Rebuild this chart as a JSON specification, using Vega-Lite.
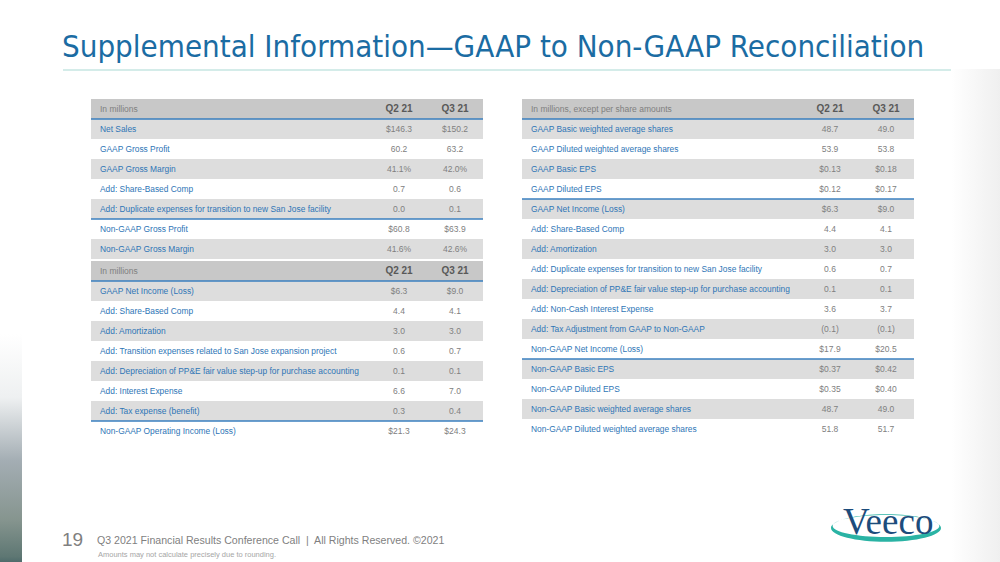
{
  "$schema": "https://vega.github.io/schema/vega-lite/v6.json",
  "background": "white",
  "padding": {"left": 0, "top": 32, "right": 0, "bottom": 0},
  "config": {"view": {"stroke": null}, "font": "Liberation Sans"},
  "spacing": 0,
  "datasets": {
    "t1": [
      {"row": 1, "block": "a", "label": "Net Sales", "Q2 21": "$146.3", "Q3 21": "$150.2"},
      {"row": 2, "block": "a", "label": "GAAP Gross Profit", "Q2 21": "60.2", "Q3 21": "63.2"},
      {"row": 3, "block": "a", "label": "GAAP Gross Margin", "Q2 21": "41.1%", "Q3 21": "42.0%"},
      {"row": 4, "block": "a", "label": "Add: Share-Based Comp", "Q2 21": "0.7", "Q3 21": "0.6"},
      {"row": 5, "block": "a", "label": "Add: Duplicate expenses for transition to new San Jose facility", "Q2 21": "0.0", "Q3 21": "0.1"},
      {"row": 6, "block": "b", "label": "Non-GAAP Gross Profit", "Q2 21": "$60.8", "Q3 21": "$63.9"},
      {"row": 7, "block": "b", "label": "Non-GAAP Gross Margin", "Q2 21": "41.6%", "Q3 21": "42.6%"}
    ],
    "t2": [
      {"row": 1, "block": "a", "label": "GAAP Net Income (Loss)", "Q2 21": "$6.3", "Q3 21": "$9.0"},
      {"row": 2, "block": "a", "label": "Add: Share-Based Comp", "Q2 21": "4.4", "Q3 21": "4.1"},
      {"row": 3, "block": "a", "label": "Add: Amortization", "Q2 21": "3.0", "Q3 21": "3.0"},
      {"row": 4, "block": "a", "label": "Add: Transition expenses related to San Jose expansion project", "Q2 21": "0.6", "Q3 21": "0.7"},
      {"row": 5, "block": "a", "label": "Add: Depreciation of PP&E fair value step-up for purchase accounting", "Q2 21": "0.1", "Q3 21": "0.1"},
      {"row": 6, "block": "a", "label": "Add: Interest Expense", "Q2 21": "6.6", "Q3 21": "7.0"},
      {"row": 7, "block": "a", "label": "Add: Tax expense (benefit)", "Q2 21": "0.3", "Q3 21": "0.4"},
      {"row": 8, "block": "b", "label": "Non-GAAP Operating Income (Loss)", "Q2 21": "$21.3", "Q3 21": "$24.3"}
    ],
    "t3": [
      {"row": 1, "block": "a", "label": "GAAP Basic weighted average shares", "Q2 21": "48.7", "Q3 21": "49.0"},
      {"row": 2, "block": "a", "label": "GAAP Diluted weighted average shares", "Q2 21": "53.9", "Q3 21": "53.8"},
      {"row": 3, "block": "a", "label": "GAAP Basic EPS", "Q2 21": "$0.13", "Q3 21": "$0.18"},
      {"row": 4, "block": "a", "label": "GAAP Diluted EPS", "Q2 21": "$0.12", "Q3 21": "$0.17"},
      {"row": 5, "block": "b", "label": "GAAP Net Income (Loss)", "Q2 21": "$6.3", "Q3 21": "$9.0"},
      {"row": 6, "block": "b", "label": "Add: Share-Based Comp", "Q2 21": "4.4", "Q3 21": "4.1"},
      {"row": 7, "block": "b", "label": "Add: Amortization", "Q2 21": "3.0", "Q3 21": "3.0"},
      {"row": 8, "block": "b", "label": "Add: Duplicate expenses for transition to new San Jose facility", "Q2 21": "0.6", "Q3 21": "0.7"},
      {"row": 9, "block": "b", "label": "Add: Depreciation of PP&E fair value step-up for purchase accounting", "Q2 21": "0.1", "Q3 21": "0.1"},
      {"row": 10, "block": "b", "label": "Add: Non-Cash Interest Expense", "Q2 21": "3.6", "Q3 21": "3.7"},
      {"row": 11, "block": "b", "label": "Add: Tax Adjustment from GAAP to Non-GAAP", "Q2 21": "(0.1)", "Q3 21": "(0.1)"},
      {"row": 12, "block": "b", "label": "Non-GAAP Net Income (Loss)", "Q2 21": "$17.9", "Q3 21": "$20.5"},
      {"row": 13, "block": "c", "label": "Non-GAAP Basic EPS", "Q2 21": "$0.37", "Q3 21": "$0.42"},
      {"row": 14, "block": "c", "label": "Non-GAAP Diluted EPS", "Q2 21": "$0.35", "Q3 21": "$0.40"},
      {"row": 15, "block": "c", "label": "Non-GAAP Basic weighted average shares", "Q2 21": "48.7", "Q3 21": "49.0"},
      {"row": 16, "block": "c", "label": "Non-GAAP Diluted weighted average shares", "Q2 21": "51.8", "Q3 21": "51.7"}
    ]
  },
  "hconcat": [
    {
      "width": 62, "height": 530,
      "data": {"values": [{}]},
      "mark": {"type": "rect", "color": {"gradient": "linear", "x1": 0, "y1": 0, "x2": 0, "y2": 1, "stops": [{"offset": 0, "color": "#ffffff"}, {"offset": 0.5, "color": "#ffffff"}, {"offset": 0.62, "color": "#eef0f1"}, {"offset": 0.74, "color": "#a3adb3"}, {"offset": 0.85, "color": "#86958f"}, {"offset": 0.92, "color": "#5e7773"}, {"offset": 0.955, "color": "#2b4f58"}, {"offset": 1, "color": "#1fa58f"}]}},
      "encoding": {"x": {"value": 0}, "x2": {"value": 22}, "y": {"value": 0}, "y2": {"value": "height"}}
    },
    {
      "title": {"text": "Supplemental Information\u2014GAAP to Non-GAAP Reconciliation", "anchor": "start", "font": "DejaVu Sans Condensed, Roboto, sans-serif", "fontSize": 31, "fontWeight": "normal", "color": "#1b6ca3", "offset": 5},
      "spacing": 28,
      "vconcat": [
        {
          "width": 888, "height": 2,
          "data": {"values": [{}]},
          "mark": {"type": "rect", "color": "#d4ece9"},
          "encoding": {"x": {"value": 0}, "x2": {"value": "width"}, "y": {"value": 0}, "y2": {"value": "height"}}
        },
        {
          "spacing": 0,
          "hconcat": [
            {"width": 27, "height": 1, "data": {"values": []}, "mark": "point"},
            {
              "spacing": 2,
              "vconcat": [
                {
                  "width": 392, "height": 160,
                  "data": {"name": "t1"},
                  "encoding": {"y": {"field": "row", "type": "ordinal", "scale": {"domain": [0, 1, 2, 3, 4, 5, 6, 7], "paddingInner": 0, "paddingOuter": 0}, "axis": null}},
                  "layer": [
                    {"transform": [{"aggregate": [{"op": "count", "as": "n"}]}], "mark": {"type": "rect", "color": "#c8c8c8"}, "encoding": {"y": {"datum": 0, "type": "ordinal"}, "x": {"value": 0}, "x2": {"value": "width"}}},
                    {"transform": [{"filter": "datum.row % 2 == 1"}], "mark": {"type": "rect", "color": "#dddddd"}, "encoding": {"x": {"value": 0}, "x2": {"value": "width"}}},
                    {"transform": [{"aggregate": [{"op": "min", "field": "row", "as": "first"}], "groupby": ["block"]}], "mark": {"type": "rule", "color": "#3a7fbf", "strokeWidth": 1.5}, "encoding": {"y": {"field": "first", "type": "ordinal", "bandPosition": 0}, "x": {"value": 0}, "x2": {"value": "width"}}},
                    {"mark": {"type": "text", "align": "left", "baseline": "middle", "fontSize": 8.4, "color": "#2e75b6"}, "encoding": {"x": {"value": 9}, "text": {"field": "label"}}},
                    {"transform": [{"fold": ["Q2 21", "Q3 21"], "as": ["period", "value"]}], "mark": {"type": "text", "align": "center", "baseline": "middle", "fontSize": 8.5, "color": "#808080"}, "encoding": {"x": {"field": "period", "type": "nominal", "scale": {"type": "band", "domain": ["Q2 21", "Q3 21"], "range": [280, 392], "paddingInner": 0, "paddingOuter": 0}, "axis": null}, "text": {"field": "value"}}},
                    {"transform": [{"fold": ["Q2 21", "Q3 21"], "as": ["period", "value"]}, {"aggregate": [{"op": "count", "as": "n"}], "groupby": ["period"]}], "mark": {"type": "text", "align": "center", "baseline": "middle", "fontSize": 10, "fontWeight": "bold", "color": "#595959"}, "encoding": {"x": {"field": "period", "type": "nominal"}, "y": {"datum": 0, "type": "ordinal"}, "text": {"field": "period"}}},
                    {"transform": [{"aggregate": [{"op": "count", "as": "n"}]}], "mark": {"type": "text", "align": "left", "baseline": "middle", "fontSize": 8.5, "color": "#7f7f7f"}, "encoding": {"x": {"value": 9}, "y": {"datum": 0, "type": "ordinal"}, "text": {"value": "In millions"}}}
                  ]
                },
                {
                  "width": 392, "height": 180,
                  "data": {"name": "t2"},
                  "encoding": {"y": {"field": "row", "type": "ordinal", "scale": {"domain": [0, 1, 2, 3, 4, 5, 6, 7, 8], "paddingInner": 0, "paddingOuter": 0}, "axis": null}},
                  "layer": [
                    {"transform": [{"aggregate": [{"op": "count", "as": "n"}]}], "mark": {"type": "rect", "color": "#c8c8c8"}, "encoding": {"y": {"datum": 0, "type": "ordinal"}, "x": {"value": 0}, "x2": {"value": "width"}}},
                    {"transform": [{"filter": "datum.row % 2 == 1"}], "mark": {"type": "rect", "color": "#dddddd"}, "encoding": {"x": {"value": 0}, "x2": {"value": "width"}}},
                    {"transform": [{"aggregate": [{"op": "min", "field": "row", "as": "first"}], "groupby": ["block"]}], "mark": {"type": "rule", "color": "#3a7fbf", "strokeWidth": 1.5}, "encoding": {"y": {"field": "first", "type": "ordinal", "bandPosition": 0}, "x": {"value": 0}, "x2": {"value": "width"}}},
                    {"mark": {"type": "text", "align": "left", "baseline": "middle", "fontSize": 8.4, "color": "#2e75b6"}, "encoding": {"x": {"value": 9}, "text": {"field": "label"}}},
                    {"transform": [{"fold": ["Q2 21", "Q3 21"], "as": ["period", "value"]}], "mark": {"type": "text", "align": "center", "baseline": "middle", "fontSize": 8.5, "color": "#808080"}, "encoding": {"x": {"field": "period", "type": "nominal", "scale": {"type": "band", "domain": ["Q2 21", "Q3 21"], "range": [280, 392], "paddingInner": 0, "paddingOuter": 0}, "axis": null}, "text": {"field": "value"}}},
                    {"transform": [{"fold": ["Q2 21", "Q3 21"], "as": ["period", "value"]}, {"aggregate": [{"op": "count", "as": "n"}], "groupby": ["period"]}], "mark": {"type": "text", "align": "center", "baseline": "middle", "fontSize": 10, "fontWeight": "bold", "color": "#595959"}, "encoding": {"x": {"field": "period", "type": "nominal"}, "y": {"datum": 0, "type": "ordinal"}, "text": {"field": "period"}}},
                    {"transform": [{"aggregate": [{"op": "count", "as": "n"}]}], "mark": {"type": "text", "align": "left", "baseline": "middle", "fontSize": 8.5, "color": "#7f7f7f"}, "encoding": {"x": {"value": 9}, "y": {"datum": 0, "type": "ordinal"}, "text": {"value": "In millions"}}}
                  ]
                }
              ]
            },
            {"width": 37, "height": 1, "data": {"values": []}, "mark": "point"},
            {
              "width": 392, "height": 340,
              "data": {"name": "t3"},
              "encoding": {"y": {"field": "row", "type": "ordinal", "scale": {"domain": [0, 1, 2, 3, 4, 5, 6, 7, 8, 9, 10, 11, 12, 13, 14, 15, 16], "paddingInner": 0, "paddingOuter": 0}, "axis": null}},
              "layer": [
                {"transform": [{"aggregate": [{"op": "count", "as": "n"}]}], "mark": {"type": "rect", "color": "#c8c8c8"}, "encoding": {"y": {"datum": 0, "type": "ordinal"}, "x": {"value": 0}, "x2": {"value": "width"}}},
                {"transform": [{"filter": "datum.row % 2 == 1"}], "mark": {"type": "rect", "color": "#dddddd"}, "encoding": {"x": {"value": 0}, "x2": {"value": "width"}}},
                {"transform": [{"aggregate": [{"op": "min", "field": "row", "as": "first"}], "groupby": ["block"]}], "mark": {"type": "rule", "color": "#3a7fbf", "strokeWidth": 1.5}, "encoding": {"y": {"field": "first", "type": "ordinal", "bandPosition": 0}, "x": {"value": 0}, "x2": {"value": "width"}}},
                {"mark": {"type": "text", "align": "left", "baseline": "middle", "fontSize": 8.4, "color": "#2e75b6"}, "encoding": {"x": {"value": 9}, "text": {"field": "label"}}},
                {"transform": [{"fold": ["Q2 21", "Q3 21"], "as": ["period", "value"]}], "mark": {"type": "text", "align": "center", "baseline": "middle", "fontSize": 8.5, "color": "#808080"}, "encoding": {"x": {"field": "period", "type": "nominal", "scale": {"type": "band", "domain": ["Q2 21", "Q3 21"], "range": [280, 392], "paddingInner": 0, "paddingOuter": 0}, "axis": null}, "text": {"field": "value"}}},
                {"transform": [{"fold": ["Q2 21", "Q3 21"], "as": ["period", "value"]}, {"aggregate": [{"op": "count", "as": "n"}], "groupby": ["period"]}], "mark": {"type": "text", "align": "center", "baseline": "middle", "fontSize": 10, "fontWeight": "bold", "color": "#595959"}, "encoding": {"x": {"field": "period", "type": "nominal"}, "y": {"datum": 0, "type": "ordinal"}, "text": {"field": "period"}}},
                {"transform": [{"aggregate": [{"op": "count", "as": "n"}]}], "mark": {"type": "text", "align": "left", "baseline": "middle", "fontSize": 8.5, "color": "#7f7f7f"}, "encoding": {"x": {"value": 9}, "y": {"datum": 0, "type": "ordinal"}, "text": {"value": "In millions, except per share amounts"}}}
              ]
            }
          ]
        },
        {
          "width": 888, "height": 90,
          "data": {"values": [{}]},
          "layer": [
            {"mark": {"type": "text", "align": "left", "baseline": "alphabetic", "fontSize": 19, "color": "#808080"}, "encoding": {"x": {"value": -1}, "y": {"value": 77}, "text": {"value": "19"}}},
            {"mark": {"type": "text", "align": "left", "baseline": "alphabetic", "fontSize": 10.6, "color": "#7f7f7f"}, "encoding": {"x": {"value": 34}, "y": {"value": 75}, "text": {"value": "Q3 2021 Financial Results Conference Call \u00a0|\u00a0 All Rights Reserved. \u00a92021"}}},
            {"mark": {"type": "text", "align": "left", "baseline": "alphabetic", "fontSize": 7.5, "color": "#a6a6a6"}, "encoding": {"x": {"value": 35}, "y": {"value": 88}, "text": {"value": "Amounts may not calculate precisely due to rounding."}}},
            {"mark": {"type": "point", "shape": "M -1 0 A 1 0.25 0 1 0 1 0 A 1 0.25 0 1 0 -1 0 Z M -0.97 -0.035 A 0.97 0.2 0 1 1 0.97 -0.035 A 0.97 0.2 0 1 1 -0.97 -0.035 Z", "filled": true, "size": 12100, "color": "#2ab3a4", "opacity": 1}, "encoding": {"x": {"value": 823}, "y": {"value": 59}}},
            {"mark": {"type": "text", "align": "left", "baseline": "alphabetic", "fontSize": 37, "font": "Liberation Serif", "color": "#1c4c7c"}, "encoding": {"x": {"value": 780}, "y": {"value": 65}, "text": {"value": "Veeco"}}}
          ]
        }
      ]
    },
    {
      "width": 50, "height": 530,
      "data": {"values": [{}]},
      "mark": {"type": "rect", "color": {"gradient": "linear", "x1": 0, "y1": 0, "x2": 1, "y2": 0, "stops": [{"offset": 0, "color": "#ffffff"}, {"offset": 1, "color": "#efefef"}]}},
      "encoding": {"x": {"value": 0}, "x2": {"value": "width"}, "y": {"value": 0}, "y2": {"value": "height"}}
    }
  ]
}
